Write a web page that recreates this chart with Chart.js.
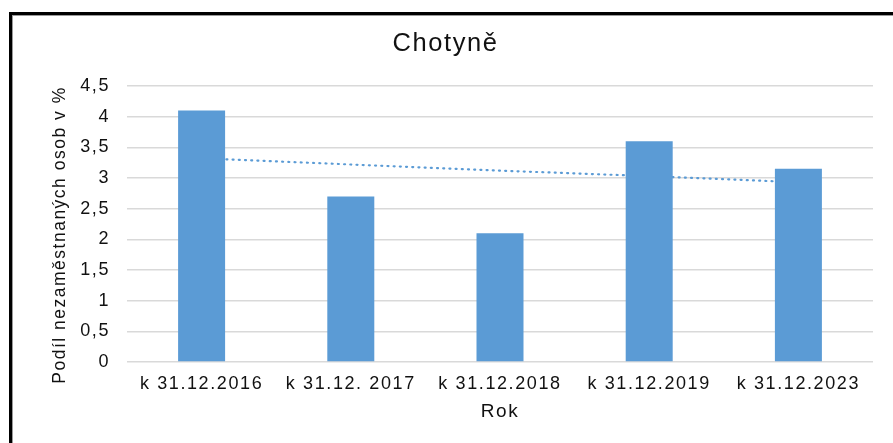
<!DOCTYPE html>
<html>
<head>
<meta charset="utf-8">
<script src="https://cdn.jsdelivr.net/npm/chart.js@4"></script>
<style>
html,body{margin:0;padding:0;background:#fff;}
#wrap{position:relative;width:893px;height:443px;overflow:hidden;background:#fff;}
#frame{position:absolute;left:9px;top:12px;width:1000px;height:1000px;border-left:3px solid #000;border-top:3px solid #000;box-shadow:inset 1px 1px 0 #9a9a9a;}
#c{position:absolute;left:0;top:0;}
</style>
</head>
<body>
<div id="wrap"><div id="frame"></div><canvas id="c" width="893" height="443"></canvas></div>
<script>
// ---- data ----
const categories = ['k 31.12.2016', 'k 31.12. 2017', 'k 31.12.2018', 'k 31.12.2019', 'k 31.12.2023'];
const unemploymentShare = [4.1, 2.7, 2.1, 3.6, 3.15];
const trendValues = [3.32, 3.22, 3.12, 3.03, 2.93];
const yTickValues = [0, 0.5, 1, 1.5, 2, 2.5, 3, 3.5, 4, 4.5];
const chartTitle = 'Chotyně';
const yAxisTitle = 'Podíl nezaměstnaných osob v %';
const xAxisTitle = 'Rok';

// ---- style ----
const FONT = '"Liberation Sans", Arial, sans-serif';
const TEXT = '#111111';
const BLUE = '#5b9bd5';
const LS = '1.6px';

const spacingPlugin = {
  id: 'spacing',
  beforeLayout(chart) { chart.ctx.letterSpacing = LS; },
  beforeDraw(chart) { chart.ctx.letterSpacing = LS; }
};

const yTitlePlugin = {
  id: 'yTitle',
  afterDraw(chart) {
    const ctx = chart.ctx;
    ctx.save();
    ctx.letterSpacing = '1.5px';
    ctx.font = '17.5px ' + FONT;
    ctx.fillStyle = TEXT;
    ctx.translate(60, 235);
    ctx.rotate(-Math.PI / 2);
    ctx.textAlign = 'center';
    ctx.textBaseline = 'middle';
    ctx.fillText(yAxisTitle, 0, 0);
    ctx.restore();
  }
};

new Chart(document.getElementById('c'), {
  data: {
    labels: categories,
    datasets: [
      {
        type: 'bar',
        data: unemploymentShare,
        backgroundColor: BLUE,
        borderWidth: 0,
        barPercentage: 0.315,
        categoryPercentage: 1,
        order: 1
      },
      {
        type: 'line',
        data: trendValues,
        borderColor: BLUE,
        borderWidth: 2.2,
        borderDash: [1, 5.2],
        borderCapStyle: 'round',
        pointRadius: 0,
        fill: false,
        tension: 0,
        order: 2
      }
    ]
  },
  options: {
    responsive: false,
    devicePixelRatio: 1,
    animation: false,
    layout: { padding: { left: 0, right: 2, top: 16, bottom: 11 } },
    plugins: {
      legend: { display: false },
      tooltip: { enabled: false },
      title: {
        display: true,
        text: chartTitle,
        color: TEXT,
        font: { family: FONT, size: 25.5, weight: 'normal' },
        padding: { top: 13, bottom: 26.4 }
      }
    },
    scales: {
      x: {
        grid: { display: false, drawTicks: false },
        border: { display: false },
        ticks: { color: TEXT, font: { family: FONT, size: 18 }, padding: 11, maxRotation: 0, autoSkip: false },
        title: { display: true, text: xAxisTitle, color: TEXT, font: { family: FONT, size: 19 }, padding: { top: 0, bottom: 9 } },
        afterFit(scale) { scale.height = 70; }
      },
      y: {
        min: 0,
        max: 4.5,
        grid: { color: '#d9d9d9', lineWidth: 1.6, drawTicks: false },
        border: { display: false },
        ticks: {
          color: TEXT,
          font: { family: FONT, size: 18 },
          padding: 17,
          callback: (v) => String(v).replace('.', ',')
        },
        afterBuildTicks(scale) { scale.ticks = yTickValues.map(v => ({ value: v })); },
        afterFit(scale) { scale.width = 127; }
      },
      spacer: {
        type: 'linear',
        position: 'right',
        display: true,
        grid: { display: false, drawTicks: false },
        border: { display: false },
        ticks: { display: false },
        afterFit(scale) { scale.width = 18; }
      }
    }
  },
  plugins: [spacingPlugin, yTitlePlugin]
});
</script>
</body>
</html>
